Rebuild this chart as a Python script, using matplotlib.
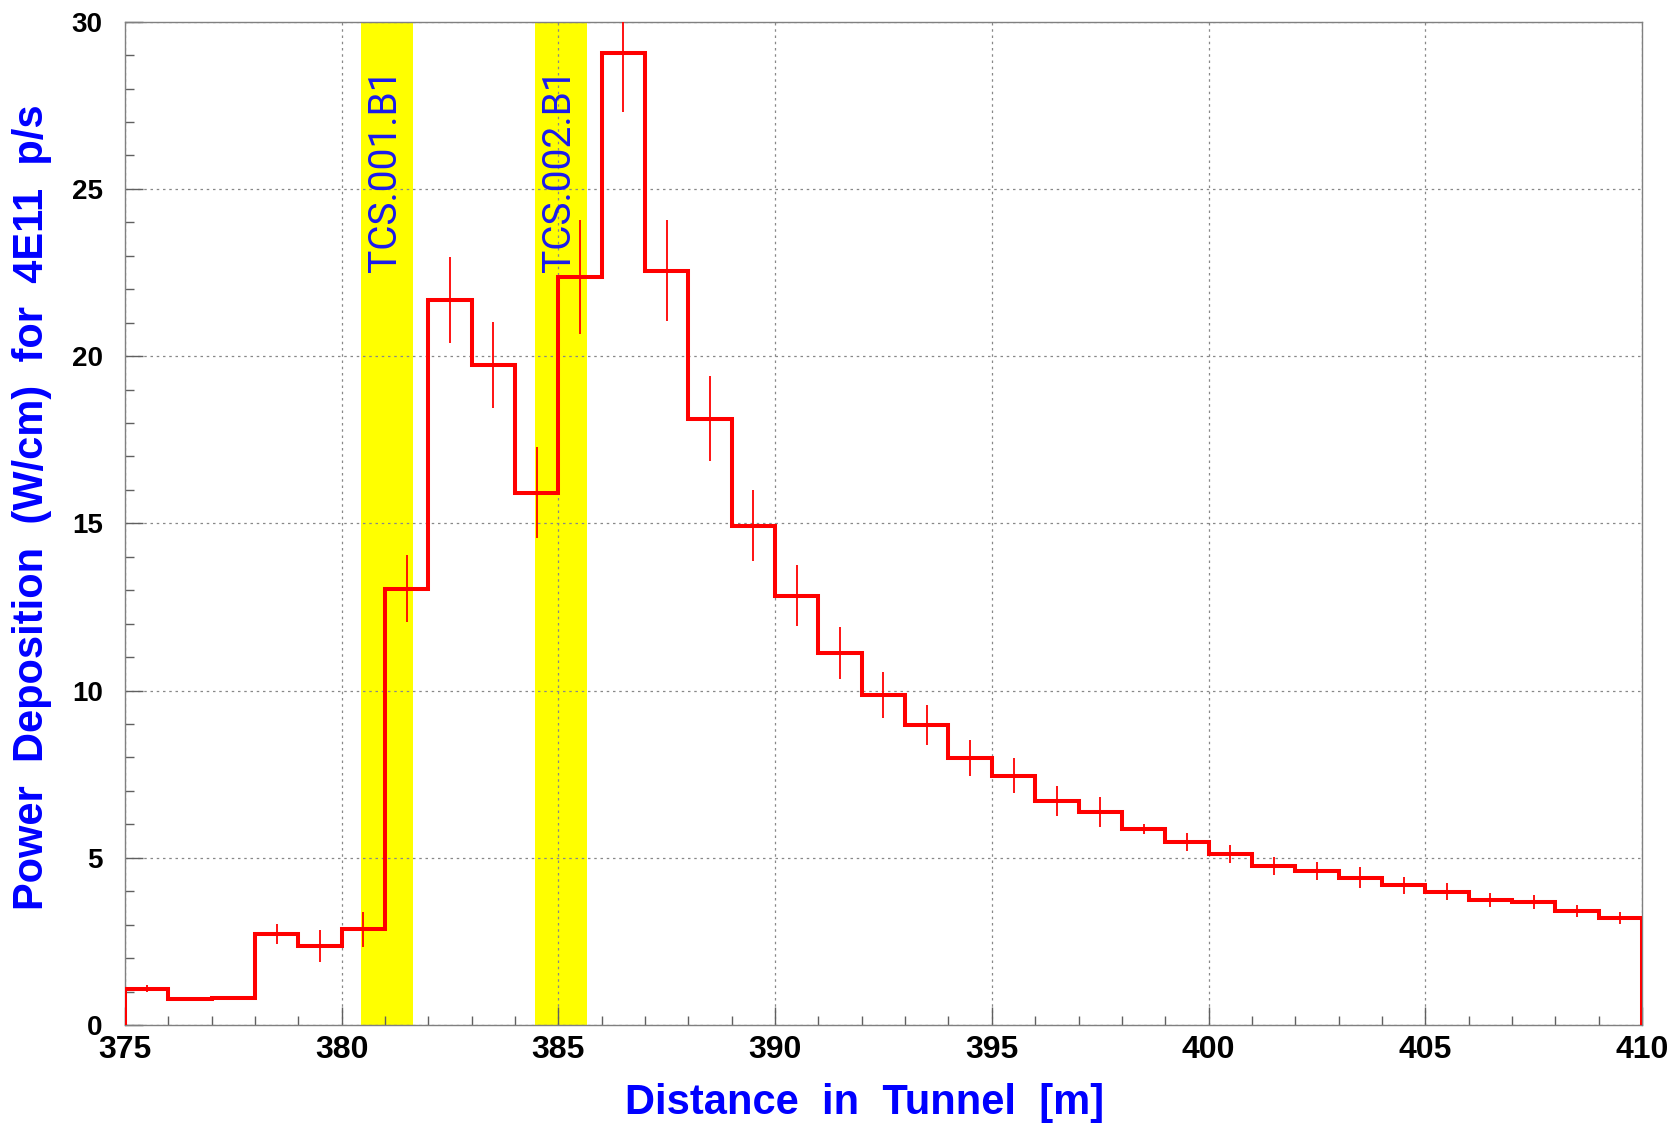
import matplotlib
matplotlib.use("Agg")
import matplotlib.pyplot as plt
import numpy as np

# bin edges (m) and power deposition per 1 m bin (W/cm for 4E11 p/s)
edges = np.arange(375, 411, 1)
power = [1.09, 0.77, 0.82, 2.72, 2.36, 2.86, 13.05, 21.68, 19.73, 15.92,
         22.36, 29.06, 22.56, 18.13, 14.93, 12.84, 11.12, 9.87, 8.97, 7.98,
         7.45, 6.71, 6.37, 5.86, 5.47, 5.11, 4.76, 4.61, 4.41, 4.18,
         3.99, 3.74, 3.68, 3.41, 3.21]
errors = [0.10, 0.05, 0.06, 0.30, 0.47, 0.52, 1.00, 1.28, 1.28, 1.35,
          1.70, 1.75, 1.52, 1.28, 1.07, 0.91, 0.78, 0.68, 0.60, 0.53,
          0.52, 0.45, 0.44, 0.16, 0.26, 0.27, 0.27, 0.26, 0.30, 0.25,
          0.26, 0.20, 0.20, 0.19, 0.18]

# collimator positions
coll_names = ["TCS.001.B1", "TCS.002.B1"]
coll_start = [380.45, 384.45]
coll_end = [381.65, 385.65]
coll_label_x = [381.02, 385.02]

power = np.array(power)
errors = np.array(errors)
centers = (edges[:-1] + edges[1:]) / 2

fig = plt.figure(figsize=(16.75, 11.25), dpi=100)
ax = fig.add_axes([0.0746, 0.0889, 0.9057, 0.8918])

# yellow collimator bands
for x0, x1 in zip(coll_start, coll_end):
    ax.axvspan(x0, x1, color="#ffff00", lw=0, zorder=1)

# histogram outline and error bars
ax.stairs(power, edges, baseline=0, color="#ff0000", lw=2.9, zorder=3)
ax.vlines(centers, power - errors, power + errors, color="#ff0000",
          lw=1.3, zorder=3)

for name, xl in zip(coll_names, coll_label_x):
    ax.text(xl, 22.52, name, rotation=90, ha="center", va="bottom",
            fontsize=28, family=["Roboto", "DejaVu Sans"], fontweight="normal",
            color="#1a1aee", zorder=4)

ax.set_xlim(375, 410)
ax.set_ylim(0, 30)
ax.set_xticks(np.arange(375, 411, 5))
ax.set_xticks(np.arange(375, 411, 1), minor=True)
ax.set_yticks(np.arange(0, 31, 5))
ax.set_yticks(np.arange(0, 31, 1), minor=True)

ax.grid(True, which="major", color="#888888", lw=0.9, linestyle=(0, (2, 3)))

for s in ax.spines.values():
    s.set_color("#808080")
    s.set_linewidth(1.0)

ax.tick_params(which="both", direction="in", color="#606060", width=1.0,
               top=False, right=False)
ax.tick_params(which="major", length=13)
ax.tick_params(which="minor", length=6.5)
ax.tick_params(axis="x", which="major", pad=7)
ax.tick_params(axis="y", which="major", pad=16)

for lab in ax.get_xticklabels():
    lab.set_fontfamily("Liberation Sans")
    lab.set_fontweight("bold")
    lab.set_fontsize(23)
for lab in ax.get_yticklabels():
    lab.set_fontfamily("Liberation Sans")
    lab.set_fontweight("bold")
    lab.set_fontsize(20)

fig.text(0.516, 0.0196, "Distance  in  Tunnel  [m]", ha="center", va="center",
         fontsize=30, fontweight="bold", family="Liberation Sans",
         color="#0000ff")
fig.text(0.019, 0.549, "Power  Deposition  (W/cm)  for  4E11  p/s",
         ha="center", va="center", rotation=90, fontsize=30,
         fontweight="bold", family="Liberation Sans", color="#0000ff")

fig.savefig("out.png", dpi=100, facecolor="white")
